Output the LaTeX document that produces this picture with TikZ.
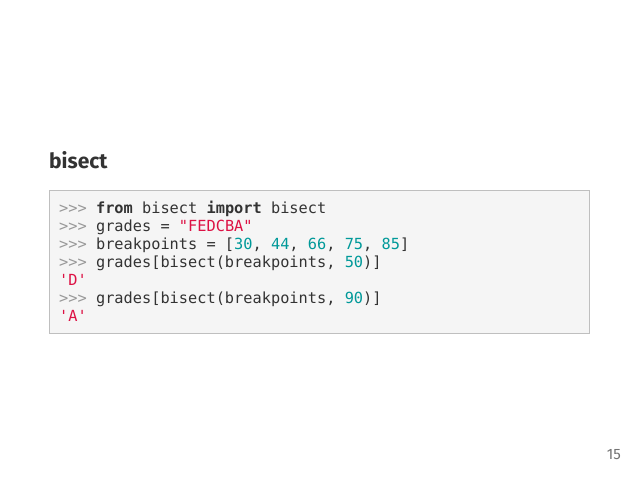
\documentclass[tikz,border=0pt]{standalone}
\usepackage{fontspec}
\setmainfont{Fira Sans}
\newfontfamily\codefont{DejaVu Sans Mono}
\definecolor{prm}{HTML}{999999}
\definecolor{str}{HTML}{DD1144}
\definecolor{num}{HTML}{009999}
\definecolor{txt}{HTML}{333333}
\begin{document}
\begin{tikzpicture}[x=1pt,y=-1pt]
\useasboundingbox[fill=white] (0,0) rectangle (638,479);
\node[anchor=west,font=\fontsize{21}{21}\selectfont\bfseries,text=txt,inner sep=0] (title) at (49,160) {bisect};
\node[draw=black!25,fill=black!4,line width=0.8pt,minimum width=540pt,minimum height=143pt,anchor=north west,inner sep=0] (box) at (49,190) {};
\node[anchor=north west,align=left,inner sep=0,text=txt,font=\codefont\fontsize{15.3}{18}\selectfont] (code) at (59,201) {%
\textcolor{prm}{>{}>{}>} \textbf{from} bisect \textbf{import} bisect\\
\textcolor{prm}{>{}>{}>} grades = \textcolor{str}{"FEDCBA"}\\
\textcolor{prm}{>{}>{}>} breakpoints = [\textcolor{num}{30}, \textcolor{num}{44}, \textcolor{num}{66}, \textcolor{num}{75}, \textcolor{num}{85}]\\
\textcolor{prm}{>{}>{}>} grades[bisect(breakpoints, \textcolor{num}{50})]\\
\textcolor{str}{'D'}\\
\textcolor{prm}{>{}>{}>} grades[bisect(breakpoints, \textcolor{num}{90})]\\
\textcolor{str}{'A'}};
\node[anchor=east,font=\fontsize{15}{15}\selectfont,text=black!55,inner sep=0] (pg) at (621,455) {15};
\end{tikzpicture}
\end{document}
